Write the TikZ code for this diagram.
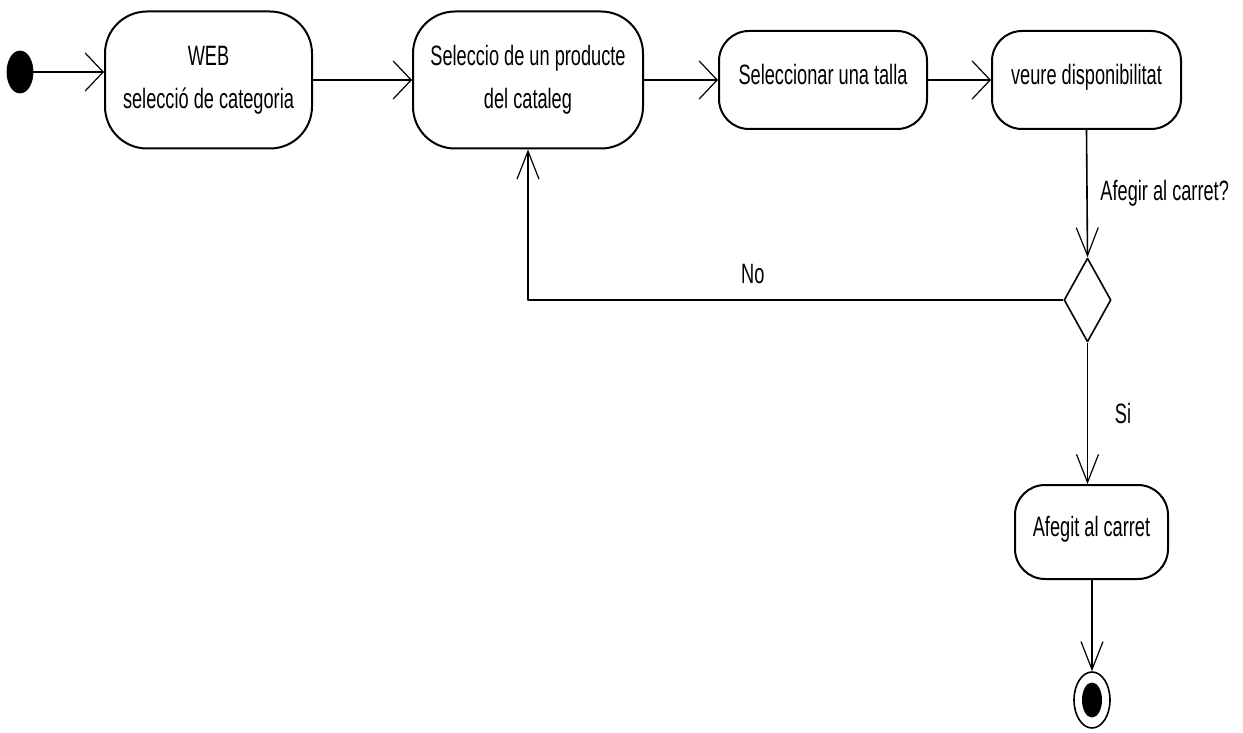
\documentclass[tikz,border=0pt]{standalone}
\usepackage{fontspec}
\usepackage{tikz}
\newfontfamily\umlfont{Liberation Sans}[FakeStretch=0.65]
\usetikzlibrary{arrows.meta,shapes.geometric,positioning}

\begin{document}
\begin{tikzpicture}[x=0.5pt,y=-0.5pt,line join=bevel,
  font=\umlfont\fontsize{14}{21.5}\selectfont,
  act/.style={draw,line width=1pt,rounded corners=#1,align=center,inner sep=0pt},
  act/.default=21pt,
  hflow/.style={line width=1.2pt,-{Straight Barb[length=9pt,width=19pt,line width=0.6pt]}},
  vflow/.style={line width=0.8pt,-{Straight Barb[length=14pt,width=11pt,line width=0.6pt]}}]
  \useasboundingbox (0,0) rectangle (1243,733);
  %%
    % Node: start
    \node [ellipse,fill=black,draw,minimum width=13pt,minimum height=21pt,inner sep=0pt] (start) at (20,72) {};
    % Node: web
    \node [act,minimum width=103.5pt,minimum height=68.5pt] (web) at (208.5,80) {WEB\\selecció de categoria};
    % Node: prod
    \node [act,minimum width=115pt,minimum height=68.5pt] (prod) at (528,80) {Seleccio de un producte\\del cataleg};
    % Node: talla
    \node [act=15pt,minimum width=104pt,minimum height=49pt,text depth=6pt] (talla) at (823,80) {Seleccionar una talla};
    % Node: disp
    \node [act=15pt,minimum width=94.5pt,minimum height=49pt,text depth=6pt] (disp) at (1086.5,80) {veure disponibilitat};
    % Node: dec
    \node [diamond,draw,line width=0.8pt,minimum width=23.5pt,minimum height=42pt,inner sep=0pt] (dec) at (1087.5,300) {};
    % Node: added
    \node [act=15pt,minimum width=76.5pt,minimum height=47pt,text depth=6pt] (added) at (1091.5,532) {Afegit al carret};
    % Node: end
    \node [ellipse,draw,line width=0.8pt,minimum width=18pt,minimum height=28pt,inner sep=0pt] (end) at (1092,700) {};
    \node [ellipse,fill=black,minimum width=10pt,minimum height=17.5pt,inner sep=0pt] (enddot) at (end.center) {};
  %
    % Edge: start -> web
    \draw [hflow] (start.east) -- (start.east -| web.west);
    % Edge: web -> prod
    \draw [hflow] (web.east) -- (prod.west);
    % Edge: prod -> talla
    \draw [hflow] (prod.east) -- (talla.west);
    % Edge: talla -> disp
    \draw [hflow] (talla.east) -- (disp.west);
    % Edge: disp -> dec
    \draw [vflow] (disp.south) -- (dec.north) node [midway,right=3pt] {Afegir al carret?};
    % Edge: dec -> prod
    \draw [vflow,line width=1.2pt] (dec.west) -| (prod.south) node [pos=0.29,above=4pt] {No};
    % Edge: dec -> added
    \draw [vflow] (dec.south) -- (dec.south |- added.north) node [midway,right=10pt] {Si};
    % Edge: added -> end
    \draw [vflow] (added.south -| end.north) -- (end.north);
  %
\end{tikzpicture}
\end{document}
